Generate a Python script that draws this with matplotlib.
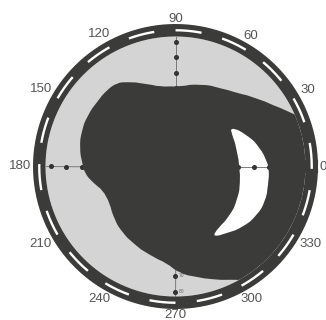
import numpy as np
import matplotlib
matplotlib.use("Agg")
import matplotlib.pyplot as plt
from matplotlib.path import Path
from matplotlib.patches import PathPatch

plt.rcParams['font.family'] = ['Liberation Sans', 'DejaVu Sans']
plt.rcParams['lines.scale_dashes'] = False

# outline of the dark region (azimuth deg, radius), counter-clockwise
shape_theta = [22, 26.5, 32, 40, 50, 60, 73, 87, 101, 111, 120, 125, 132, 140,
               150, 159, 169, 178, 184, 191, 198, 209, 221, 231, 241, 254, 265,
               272, 281, 288, 296, 301, 301, 340, 380]
shape_r = [85, 79.7, 73.8, 67.7, 61.3, 57.7, 55.1, 51.0, 51.8, 56.8, 62.4, 65.3,
           65.7, 65.0, 65.0, 64.2, 62.5, 59.6, 58.3, 53.8, 48.8, 48.0, 51.7, 54.1,
           56.0, 59.0, 62.0, 68.2, 72.0, 75.9, 80.6, 84.5, 100, 100, 100]

# white crescent (hole), clockwise
hole_theta = [35.9, 23.8, 12.3, 2.8, -0.9, -11.3, -21.6, -30.8, -41.9, -52.2,
              -62.6, -55.4, -41.7, -28.6, -13.5, -1.4, 13.3, 29.1]
hole_r = [43.1, 50.0, 55.4, 58.6, 59.8, 60.4, 61.6, 60.7, 58.0, 53.8,
          50.8, 47.8, 46.7, 44.8, 42.5, 40.7, 40.4, 41.4]

angle_ticks = [0, 30, 60, 90, 120, 150, 180, 210, 240, 270, 300, 330]
angle_labels = ['0', '30', '60', '90', '120', '150', '180', '210', '240', '270', '300', '330']
r_ticks = [10, 20, 30, 40, 50, 60, 70, 80]
cross_angles = [0, 90, 180, 270]

dark = '#3b3b39'
rmax = 83.2
px_per_r = 130 / rmax


def smooth_loop(theta_deg, r):
    # closed outline drawn with quadratic curves through the read points
    t = np.radians(theta_deg)
    r = np.asarray(r, dtype=float)
    dt = (np.roll(t, -1) - t + np.pi) % (2 * np.pi) - np.pi
    mt = t + dt / 2
    mr = (r + np.roll(r, -1)) / 2
    verts = [(mt[-1], mr[-1])]
    codes = [Path.MOVETO]
    for i in range(len(t)):
        verts += [(t[i], r[i]), (mt[i], mr[i])]
        codes += [Path.CURVE3, Path.CURVE3]
    return verts, codes


fig = plt.figure(figsize=(3.26, 3.2), dpi=100)
ax = fig.add_axes([45.5/326, 23.5/320, 260/326, 260/320], projection='polar')
ax.set_facecolor('#d4d4d4')
ax.set_ylim(0, rmax)
ax.set_axisbelow(True)
ax.grid(False)
ax.spines['polar'].set_visible(False)
ax.set_yticks([])

ax.set_xticks(np.radians(angle_ticks))
ax.set_xticklabels([''] * len(angle_ticks))
ax.set_xticks(np.radians(np.arange(0, 360, 10)), minor=True)
ax.tick_params(axis='x', which='both', direction='in', length=4, width=0.6,
               color='#8c8c8c')

# angle labels just outside the ring
for a, lab in zip(angle_ticks, angle_labels):
    th = np.radians(a)
    d = 144 + 0.5 * 7.3 * len(lab) * abs(np.cos(th)) + 4 * abs(np.sin(th))
    ax.text(th, d / px_per_r, lab, fontsize=9.5, color='#555555',
            ha='center', va='center', clip_on=False)

hv, hc = smooth_loop(hole_theta, hole_r)
sv, sc = smooth_loop(shape_theta, shape_r)

# crescent fill (seen through the hole)
ax.add_patch(PathPatch(Path(hv, hc), facecolor='white', edgecolor='none', zorder=1))

# cross lines with dots
for a in cross_angles:
    ax.plot([np.radians(a)] * 2, [0, rmax], color='#7a7a7a', lw=0.7, zorder=1.5)
    ax.plot([np.radians(a)] * len(r_ticks), r_ticks, 'o', color='#333333',
            ms=2.6, zorder=1.6)
for rv in r_ticks:
    ax.annotate(str(rv), (np.radians(270), rv), xytext=(2, 0), textcoords='offset points',
                fontsize=3.5, color='#666666', ha='left', va='center', zorder=1.6)

# dark region with hole
ax.add_patch(PathPatch(Path(sv + hv, sc + hc), facecolor=dark, edgecolor='none', zorder=2))

# outer ring with white dashes
ring_t = np.linspace(0, 2 * np.pi, 721)
ring_r = 136.25 / px_per_r
ax.plot(ring_t, [ring_r] * len(ring_t), color=dark, lw=9, clip_on=False, zorder=5)
deg_pt = 136.25 * np.pi / 180 * 0.72
dash_t = np.radians(np.linspace(10, 10 - 360, 721))
ax.plot(dash_t, [ring_r] * len(dash_t), color='white', lw=1.7, clip_on=False, zorder=6,
        dashes=(11 * deg_pt, 9 * deg_pt))

fig.savefig('out.png', dpi=100, facecolor='white')
